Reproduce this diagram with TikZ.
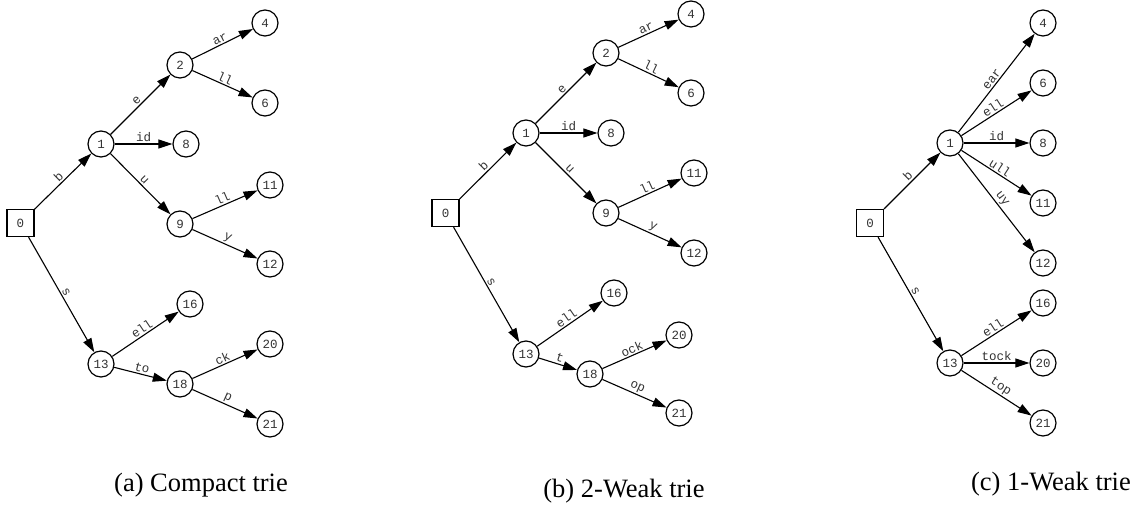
\documentclass[tikz,border=0pt]{standalone}
\usepackage{fontspec}
\setmainfont{Liberation Serif}
\newfontfamily\trielabel{Liberation Mono}
\usetikzlibrary{arrows.meta}

\tikzset{
  state/.style={circle, draw, line width=1.2pt, minimum size=26pt, inner sep=0pt,
    font=\trielabel\fontsize{12.5}{13}\selectfont, text=black!80},
  rootstate/.style={rectangle, draw, line width=1.2pt, minimum size=27pt, inner sep=0pt,
    font=\trielabel\fontsize{12.5}{13}\selectfont, text=black!80},
  edge/.style={line width=1.1pt, -{Triangle[length=14pt,width=9pt]}},
  lbl/.style={sloped, above, inner sep=1.5pt,
    font=\trielabel\fontsize{12.5}{13}\selectfont, text=black!80},
  caption/.style={anchor=base, font=\fontsize{26.5}{30}\selectfont}
}

\begin{document}
\begin{tikzpicture}[x=1pt, y=-1pt]
\useasboundingbox (0,0) rectangle (1134,510);

% ---- compact trie ----
\node[rootstate] (a0) at (20.5,223) {0};
\node[state] (a1) at (101,144) {1};
\node[state] (a2) at (180,65) {2};
\node[state] (a4) at (265,23) {4};
\node[state] (a6) at (265,103) {6};
\node[state] (a8) at (186,144) {8};
\node[state] (a9) at (180,224) {9};
\node[state] (a11) at (270,185) {11};
\node[state] (a12) at (270,264) {12};
\node[state] (a13) at (101,364) {13};
\node[state] (a16) at (190,304) {16};
\node[state] (a18) at (180,384) {18};
\node[state] (a20) at (270,344) {20};
\node[state] (a21) at (270,424) {21};

\draw[edge] (a0) -- node[lbl]{b} (a1);
\draw[edge] (a0) -- node[lbl]{s} (a13);
\draw[edge] (a1) -- node[lbl]{e} (a2);
\draw[edge] (a1) -- node[lbl]{id} (a8);
\draw[edge] (a1) -- node[lbl]{u} (a9);
\draw[edge] (a2) -- node[lbl]{ar} (a4);
\draw[edge] (a2) -- node[lbl]{ll} (a6);
\draw[edge] (a9) -- node[lbl]{ll} (a11);
\draw[edge] (a9) -- node[lbl]{y} (a12);
\draw[edge] (a13) -- node[lbl]{ell} (a16);
\draw[edge] (a13) -- node[lbl]{to} (a18);
\draw[edge] (a18) -- node[lbl]{ck} (a20);
\draw[edge] (a18) -- node[lbl]{p} (a21);

\node[caption] (capa) at (201,491) {(a) Compact trie};

% ---- 2-weak trie ----
\node[rootstate] (b0) at (445.5,213) {0};
\node[state] (b1) at (526,133) {1};
\node[state] (b2) at (606,53) {2};
\node[state] (b4) at (691,14) {4};
\node[state] (b6) at (691,93) {6};
\node[state] (b8) at (611,133) {8};
\node[state] (b9) at (606,213) {9};
\node[state] (b11) at (694,173) {11};
\node[state] (b12) at (694,253) {12};
\node[state] (b13) at (526,354) {13};
\node[state] (b16) at (614,293) {16};
\node[state] (b18) at (590,374) {18};
\node[state] (b20) at (679,335) {20};
\node[state] (b21) at (679,413) {21};

\draw[edge] (b0) -- node[lbl]{b} (b1);
\draw[edge] (b0) -- node[lbl]{s} (b13);
\draw[edge] (b1) -- node[lbl]{e} (b2);
\draw[edge] (b1) -- node[lbl]{id} (b8);
\draw[edge] (b1) -- node[lbl]{u} (b9);
\draw[edge] (b2) -- node[lbl]{ar} (b4);
\draw[edge] (b2) -- node[lbl]{ll} (b6);
\draw[edge] (b9) -- node[lbl]{ll} (b11);
\draw[edge] (b9) -- node[lbl]{y} (b12);
\draw[edge] (b13) -- node[lbl]{ell} (b16);
\draw[edge] (b13) -- node[lbl]{t} (b18);
\draw[edge] (b18) -- node[lbl]{ock} (b20);
\draw[edge] (b18) -- node[lbl]{op} (b21);

\node[caption] (capb) at (624,497) {(b) 2-Weak trie};

% ---- 1-weak trie ----
\node[rootstate] (c0) at (870,223) {0};
\node[state] (c1) at (950,143) {1};
\node[state] (c4) at (1043,23) {4};
\node[state] (c6) at (1043,83) {6};
\node[state] (c8) at (1043,143) {8};
\node[state] (c11) at (1043,203) {11};
\node[state] (c12) at (1043,263) {12};
\node[state] (c13) at (950,363) {13};
\node[state] (c16) at (1043,303) {16};
\node[state] (c20) at (1043,363) {20};
\node[state] (c21) at (1043,423) {21};

\draw[edge] (c0) -- node[lbl]{b} (c1);
\draw[edge] (c0) -- node[lbl]{s} (c13);
\draw[edge] (c1) -- node[lbl]{ear} (c4);
\draw[edge] (c1) -- node[lbl]{ell} (c6);
\draw[edge] (c1) -- node[lbl]{id} (c8);
\draw[edge] (c1) -- node[lbl]{ull} (c11);
\draw[edge] (c1) -- node[lbl]{uy} (c12);
\draw[edge] (c13) -- node[lbl]{ell} (c16);
\draw[edge] (c13) -- node[lbl]{tock} (c20);
\draw[edge] (c13) -- node[lbl]{top} (c21);

\node[caption] (capc) at (1051,490) {(c) 1-Weak trie};
\end{tikzpicture}
\end{document}
